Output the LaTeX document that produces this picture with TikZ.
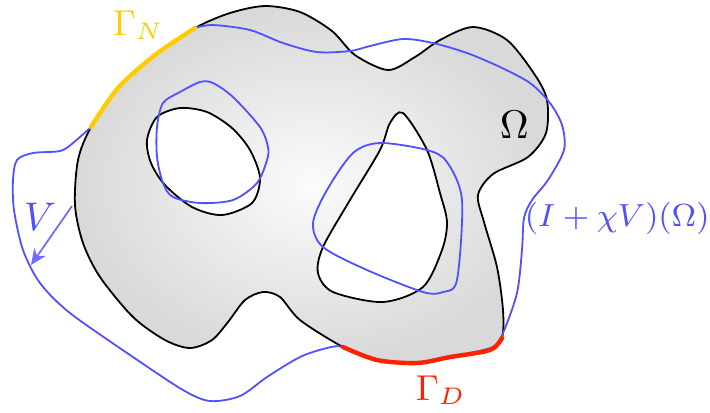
\documentclass[tikz,border=0pt]{standalone}
\usepackage{tikz}
\usetikzlibrary{arrows.meta}
\definecolor{mapblue}{RGB}{80,80,255}
\definecolor{arrowblue}{RGB}{110,110,255}
\definecolor{neumann}{RGB}{255,204,0}
\definecolor{dirichlet}{RGB}{255,34,0}
\tikzset{
  boundary/.style  = {line width=0.45pt, draw=black},
  omegafill/.style = {boundary, inner color=gray!3, outer color=gray!30},
  hole/.style      = {boundary, fill=white},
  moved/.style     = {line width=0.45pt, draw=mapblue},
  gammaN/.style    = {line width=1.1pt, draw=neumann, line cap=round},
  gammaD/.style    = {line width=1.1pt, draw=dirichlet, line cap=round},
  field/.style     = {line width=0.45pt, draw=arrowblue, -{Stealth[length=4pt,width=3.5pt]}},
  lbl/.style       = {inner sep=0pt}
}
\begin{document}
\begin{tikzpicture}[x=0.25pt, y=-0.25pt]
  \useasboundingbox (0,0) rectangle (710,412);
  % domain Omega
  \shade[omegafill] plot[smooth cycle] coordinates {
    (91,127) (118,88) (155,55) (195,28) (230,13) (265,6) (300,12) (332,31)
    (355,55) (388,70) (415,57) (440,40) (473,27) (507,40) (535,75) (547,100)
    (546,133) (528,157) (493,174) (478,195) (484,222) (497,267) (503,310)
    (502,338) (490,350) (450,358) (417,363) (377,360) (343,347) (300,320)
    (280,297) (263,292) (245,300) (228,322) (212,340) (190,348) (165,340)
    (133,317) (100,277) (83,243) (75,205) (78,160)};
  % holes
  \draw[hole] plot[smooth cycle] coordinates {
    (147,140) (157,117) (180,108) (207,112) (232,128) (250,150) (260,178)
    (252,203) (222,215) (192,207) (165,185) (151,163)};
  \draw[hole] plot[smooth cycle] coordinates {
    (403,113) (427,150) (440,193) (447,222) (442,250) (423,287) (383,302)
    (333,292) (318,273) (323,247) (350,200) (380,150) (390,123)};
  % perturbed domain
  \draw[moved] plot[smooth] coordinates {
    (91,127) (73,143) (60,151) (33,153) (17,160) (13,180) (14,210) (23,250)
    (40,283) (70,313) (133,357) (183,390) (210,401) (240,396) (267,377)
    (300,357) (327,348) (343,347) (377,360) (417,363) (450,357) (493,347)
    (503,333) (517,293) (522,250) (524,218) (532,200) (548,180) (564,150)
    (562,125) (550,103) (530,83) (500,67) (467,53) (433,43) (403,39)
    (370,46) (350,51) (317,52) (283,43) (250,30) (213,25) (195,28)};
  \draw[moved] plot[smooth cycle] coordinates {
    (157,127) (163,103) (180,92) (200,82) (213,83) (233,97) (260,127)
    (268,147) (267,160) (257,183) (233,200) (200,203) (173,197) (163,183)
    (157,157)};
  \draw[moved] plot[smooth cycle] coordinates {
    (380,143) (427,150) (447,162) (462,200) (457,280) (443,292) (423,292)
    (367,270) (323,247) (313,223) (327,190) (353,153)};
  % boundary parts
  \draw[gammaN] plot[smooth] coordinates {(91,127) (118,88) (155,55) (195,28)};
  \draw[gammaD] plot[smooth] coordinates {
    (343,347) (377,360) (417,363) (450,357) (490,350) (502,338)};
  % deformation field
  \coordinate (vtail) at (72,206);
  \coordinate (vhead) at (31,265);
  \draw[field] (vtail) -- (vhead);
  % labels
  \node[lbl, anchor=base west, text=neumann]   (lblN) at (112,35)  {\small $\Gamma_N$};
  \node[lbl, anchor=base west, text=dirichlet] (lblD) at (415,400) {\small $\Gamma_D$};
  \node[lbl, anchor=base west]                 (lblO) at (499,138) {$\Omega$};
  \node[lbl, anchor=base west, text=mapblue]   (lblV) at (23,230)  {$V$};
  \node[lbl, anchor=base west, text=mapblue]   (lblI) at (524,226) {\footnotesize $(I+\chi V)(\Omega)$};
\end{tikzpicture}
\end{document}
